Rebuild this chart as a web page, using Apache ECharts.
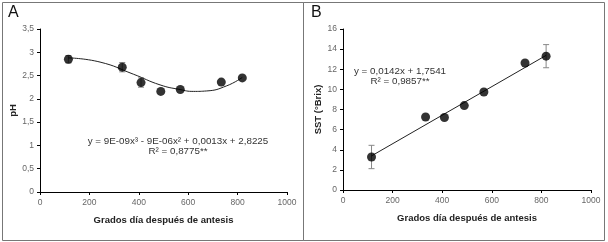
<!DOCTYPE html>
<html>
<head>
<meta charset="utf-8">
<script src="https://cdn.jsdelivr.net/npm/echarts@6/dist/echarts.min.js"></script>
<style>
  html, body { margin: 0; padding: 0; background: #fff; }
  #chart { width: 608px; height: 242px; }
</style>
</head>
<body>
<div id="chart"></div>
<script>
// días grado de cada muestreo
const gdd = [115, 333, 409, 489, 568, 734, 819];

// panel A: pH
const phVals = [2.85, 2.68, 2.35, 2.16, 2.20, 2.36, 2.45];
const phErr = [0.08, 0.10, 0.10, 0, 0, 0, 0];
const phCurveX = [115, 243, 378, 486, 567, 621, 675, 756, 819];
const phCurveY = [2.88, 2.79, 2.53, 2.30, 2.20, 2.16, 2.17, 2.28, 2.46];

// panel B: SST
const sstVals = [3.28, 7.26, 7.2, 8.39, 9.74, 12.62, 13.3];
const sstErr = [1.16, 0, 0, 0, 0, 0, 1.15];
const sstLineX = [115, 819];
const sstLineY = [3.39, 13.38];

const xTicks = [0, 200, 400, 600, 800, 1000];

const font = 'Liberation Sans, Arial, sans-serif';
const labelGray = '#666';

function pairs(xs, ys) {
    return xs.map((x, i) => [x, ys[i]]);
}

function errData(xs, ys, es) {
    return xs.map((x, i) => [x, ys[i] - es[i], ys[i] + es[i]]).filter((d, i) => es[i] > 0);
}

function errSeries(idx, data) {
    return {
        type: 'custom',
        xAxisIndex: idx,
        yAxisIndex: idx,
        data: data,
        z: 1,
        renderItem: function (params, api) {
            const lo = api.coord([api.value(0), api.value(1)]);
            const hi = api.coord([api.value(0), api.value(2)]);
            const w = 3;
            const st = { stroke: '#888', lineWidth: 1 };
            return {
                type: 'group',
                children: [
                    { type: 'line', shape: { x1: lo[0], y1: lo[1], x2: hi[0], y2: hi[1] }, style: st },
                    { type: 'line', shape: { x1: lo[0] - w, y1: lo[1], x2: lo[0] + w, y2: lo[1] }, style: st },
                    { type: 'line', shape: { x1: hi[0] - w, y1: hi[1], x2: hi[0] + w, y2: hi[1] }, style: st }
                ]
            };
        }
    };
}

function xAxis(idx) {
    return {
        type: 'value',
        gridIndex: idx,
        min: 0,
        max: 1000,
        interval: 200,
        name: 'Grados día después de antesis',
        nameLocation: 'middle',
        nameGap: 23,
        nameTextStyle: { fontFamily: font, fontSize: 9.5, fontWeight: 'bold', color: '#222' },
        axisLine: { lineStyle: { color: '#000', width: 1 } },
        axisTick: { length: 3, lineStyle: { color: '#000' } },
        axisLabel: { fontFamily: font, fontSize: 8.5, color: labelGray, margin: 6,
            formatter: v => xTicks.includes(v) ? String(v) : '' },
        splitLine: { show: false }
    };
}

function yAxis(idx, max, interval, name, gap) {
    return {
        type: 'value',
        gridIndex: idx,
        min: 0,
        max: max,
        interval: interval,
        name: name,
        nameLocation: 'middle',
        nameRotate: 90,
        nameGap: gap,
        nameTextStyle: { fontFamily: font, fontSize: 9.5, fontWeight: 'bold', color: '#222' },
        axisLine: { show: true, lineStyle: { color: '#000', width: 1 } },
        axisTick: { show: true, length: 3, lineStyle: { color: '#000' } },
        axisLabel: { fontFamily: font, fontSize: 8.5, color: labelGray, margin: 6,
            formatter: v => String(v).replace('.', ',') },
        splitLine: { show: false }
    };
}

const chart = echarts.init(document.getElementById('chart'), null, { renderer: 'canvas' });

chart.setOption({
    animation: false,
    backgroundColor: '#fff',
    grid: [
        { left: 40, right: 321, top: 29, bottom: 50 },
        { left: 343, right: 17, top: 29, bottom: 52 }
    ],
    xAxis: [xAxis(0), xAxis(1)],
    yAxis: [
        yAxis(0, 3.5, 0.5, 'pH', 21),
        yAxis(1, 16, 2, 'SST (°Brix)', 19)
    ],
    graphic: [
        { type: 'rect', shape: { x: 2.5, y: 2.5, width: 301, height: 238 },
          style: { fill: 'none', stroke: '#777', lineWidth: 1 } },
        { type: 'rect', shape: { x: 303.5, y: 2.5, width: 301, height: 238 },
          style: { fill: 'none', stroke: '#777', lineWidth: 1 } },
        { type: 'text', left: 8, top: 5,
          style: { text: 'A', fontFamily: font, fontSize: 16, fill: '#111' } },
        { type: 'text', left: 311, top: 5,
          style: { text: 'B', fontFamily: font, fontSize: 16, fill: '#111' } },
        { type: 'text', x: 178, y: 146,
          style: { text: 'y = 9E-09x³ - 9E-06x² + 0,0013x + 2,8225\nR² = 0,8775**',
                   fontFamily: font, fontSize: 9.8, fill: '#333', align: 'center',
                   verticalAlign: 'middle', lineHeight: 10 }, },
        { type: 'text', x: 400, y: 76,
          style: { text: 'y = 0,0142x + 1,7541\nR² = 0,9857**',
                   fontFamily: font, fontSize: 9.8, fill: '#333', align: 'center',
                   verticalAlign: 'middle', lineHeight: 10 } }
    ],
    series: [
        {
            type: 'line',
            xAxisIndex: 0, yAxisIndex: 0,
            data: pairs(phCurveX, phCurveY),
            smooth: true,
            showSymbol: false,
            lineStyle: { color: '#222', width: 1 },
            z: 2
        },
        errSeries(0, errData(gdd, phVals, phErr)),
        {
            type: 'scatter',
            xAxisIndex: 0, yAxisIndex: 0,
            data: pairs(gdd, phVals),
            symbolSize: 9,
            itemStyle: { color: '#000' },
            z: 3
        },
        {
            type: 'line',
            xAxisIndex: 1, yAxisIndex: 1,
            data: pairs(sstLineX, sstLineY),
            showSymbol: false,
            lineStyle: { color: '#222', width: 1 },
            z: 2
        },
        errSeries(1, errData(gdd, sstVals, sstErr)),
        {
            type: 'scatter',
            xAxisIndex: 1, yAxisIndex: 1,
            data: pairs(gdd, sstVals),
            symbolSize: 9,
            itemStyle: { color: '#000' },
            z: 3
        }
    ]
});
</script>
</body>
</html>
